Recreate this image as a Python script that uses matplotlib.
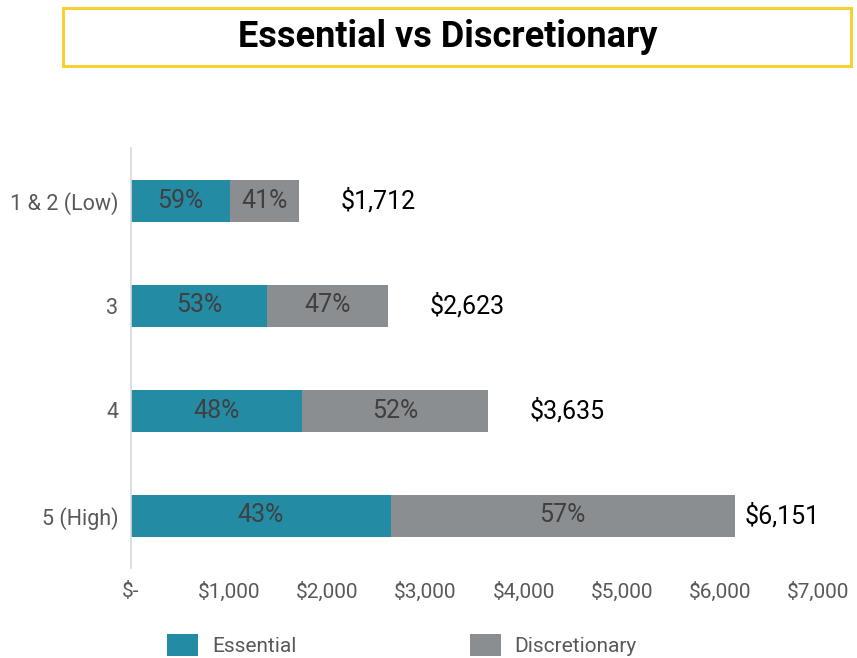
import numpy as np
import matplotlib.pyplot as plt
from matplotlib.patches import Rectangle

plt.rcParams['font.family'] = ['Roboto', 'DejaVu Sans']

# data
categories = ['1 & 2 (Low)', '3', '4', '5 (High)']
totals = [1712, 2623, 3635, 6151]
essential_pct = [59, 53, 48, 43]
discretionary_pct = [41, 47, 52, 57]
xticks = [0, 1000, 2000, 3000, 4000, 5000, 6000, 7000]
xticklabels = ['$-', '$1,000', '$2,000', '$3,000', '$4,000', '$5,000', '$6,000', '$7,000']

teal = '#238BA4'
grey = '#8B8E91'

W, H = 857, 658
fig = plt.figure(figsize=(W / 100, H / 100), dpi=100)
ax = fig.add_axes([131 / W, 1 - 568 / H, (818 - 131) / W, (568 - 148) / H])

totals = np.array(totals, dtype=float)
ess = totals * np.array(essential_pct) / 100
dis = totals - ess
y = np.arange(len(categories))

ax.barh(y, ess, height=0.40, color=teal, label='Essential')
ax.barh(y, dis, left=ess, height=0.40, color=grey, label='Discretionary')

for i in range(len(categories)):
    ax.text(ess[i] / 2, y[i], f'{essential_pct[i]}%', ha='center', va='center',
            fontsize=18, color='#404040')
    ax.text(ess[i] + dis[i] / 2, y[i], f'{discretionary_pct[i]}%', ha='center', va='center',
            fontsize=18, color='#404040')
    # total label sits in the middle of a hidden segment after the bar
    end = min(totals[i] + 1650, 7150)
    ax.text((totals[i] + end) / 2 - 20, y[i], f'${int(totals[i]):,}', ha='center', va='center',
            fontsize=18, color='black')

ax.set_xlim(0, 7000)
ax.set_ylim(len(categories) - 0.5, -0.5)
ax.set_yticks(y)
ax.set_yticklabels(categories)
ax.set_xticks(xticks)
ax.set_xticklabels(xticklabels)
ax.tick_params(length=0, labelcolor='#595959')
ax.tick_params(axis='x', pad=10, labelsize=15)
ax.tick_params(axis='y', pad=9, labelsize=15.5)
for s in ['top', 'right', 'bottom']:
    ax.spines[s].set_visible(False)
ax.spines['left'].set_color('#D9D9D9')
ax.spines['left'].set_linewidth(1.2)

fig.legend(loc='center', bbox_to_anchor=(402 / W, 1 - 645 / H), ncol=2, frameon=False,
           fontsize=15, handlelength=1.5, handleheight=1.3, handletextpad=0.67,
           columnspacing=8.3, labelcolor='#595959')

fig.patches.append(Rectangle((63 / W, 1 - 66 / H), (851 - 63) / W, 58 / H,
                             transform=fig.transFigure, fill=False,
                             edgecolor='#F7D033', linewidth=2.2))
fig.text(448 / W, 1 - 37 / H, 'Essential vs Discretionary', ha='center', va='center',
         fontsize=26, fontweight='bold', color='black')

fig.savefig('out.png', dpi=100)
